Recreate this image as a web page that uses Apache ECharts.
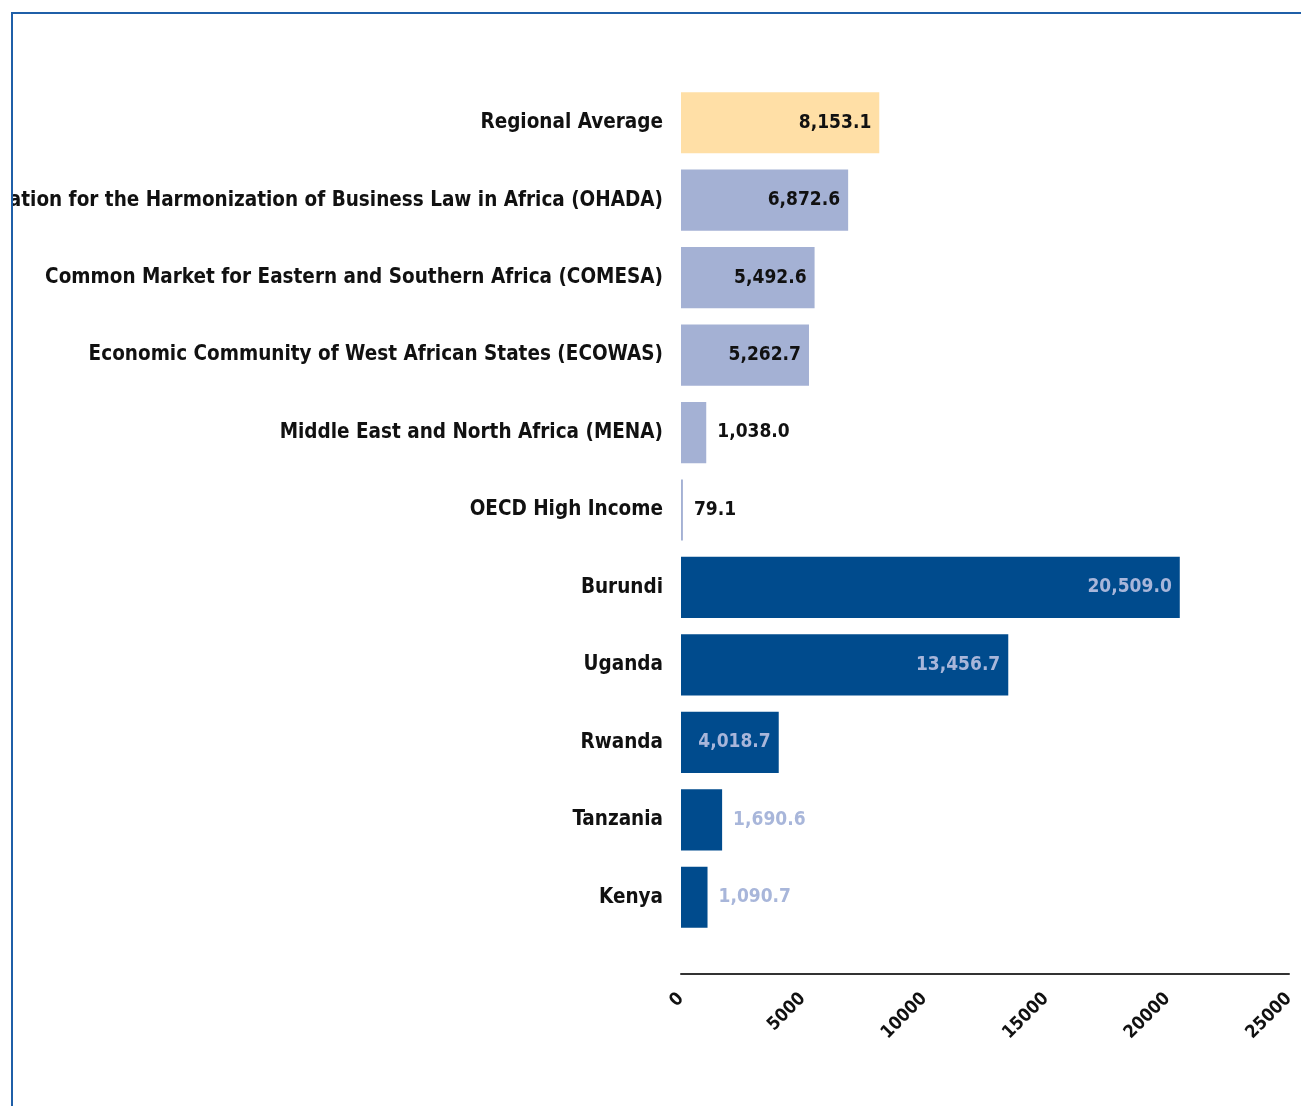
<!DOCTYPE html>
<html>
<head>
<meta charset="utf-8">
<title>Chart</title>
<script src="https://cdn.jsdelivr.net/npm/echarts@6/dist/echarts.min.js"></script>
<style>
  html, body { margin: 0; padding: 0; background: #fff; }
  #frame {
    position: absolute; left: 11px; top: 12px; width: 1300px; height: 1100px;
    border-left: 2px solid #1f5fa8; border-top: 2px solid #1f5fa8;
  }
  #chart { position: absolute; left: 13px; top: 14px; width: 1288px; height: 1092px; overflow: hidden; }
</style>
</head>
<body>
<div id="frame"></div>
<div id="chart"></div>
<script>
// data
var categories = [
    "Regional Average",
    "Organization for the Harmonization of Business Law in Africa (OHADA)",
    "Common Market for Eastern and Southern Africa (COMESA)",
    "Economic Community of West African States (ECOWAS)",
    "Middle East and North Africa (MENA)",
    "OECD High Income",
    "Burundi",
    "Uganda",
    "Rwanda",
    "Tanzania",
    "Kenya"
];
var values = [8153.1, 6872.6, 5492.6, 5262.7, 1038.0, 79.1, 20509.0, 13456.7, 4018.7, 1690.6, 1090.7];
var kinds = ["average", "bloc", "bloc", "bloc", "bloc", "bloc", "country", "country", "country", "country", "country"];
var xTicks = [0, 5000, 10000, 15000, 20000, 25000];

var FONT = '"DejaVu Sans Condensed", "Liberation Sans", sans-serif';
var barColor = { average: "#ffdfa6", bloc: "#a4b1d4", country: "#004b8d" };
var labelColor = { average: "#111", bloc: "#111", country: "#a8b6da" };

function fmt(v) {
    return v.toLocaleString("en-US", { minimumFractionDigits: 1, maximumFractionDigits: 1 });
}

var seriesData = values.map(function (v, i) {
    var k = kinds[i];
    // small bars get their label outside
    var inside = v > 3000;
    return {
        value: v,
        itemStyle: { color: barColor[k] },
        label: {
            position: inside ? "insideRight" : "right",
            distance: inside ? 8 : 11,
            color: labelColor[k]
        }
    };
});

var chart = echarts.init(document.getElementById("chart"));
chart.setOption({
    animation: false,
    grid: { left: 668, top: 70, width: 608, height: 852, outerBoundsMode: "none", containLabel: false },
    xAxis: {
        type: "value",
        min: xTicks[0],
        max: xTicks[xTicks.length - 1],
        interval: 5000,
        offset: 38,
        axisLine: { show: true, lineStyle: { color: "#333", width: 2 } },
        axisTick: { show: false },
        splitLine: { show: false },
        axisLabel: {
            rotate: 45,
            margin: 22,
            fontFamily: FONT,
            fontWeight: "bold",
            fontSize: 18,
            color: "#111",
            formatter: function (v) { return String(v); }
        }
    },
    yAxis: {
        type: "category",
        inverse: true,
        data: categories,
        axisLine: { show: false },
        axisTick: { show: false },
        axisLabel: {
            margin: 18,
            fontFamily: FONT,
            fontWeight: "bold",
            fontSize: 20.5,
            color: "#111"
        }
    },
    series: [{
        type: "bar",
        data: seriesData,
        barCategoryGap: "21%",
        label: {
            show: true,
            fontFamily: FONT,
            fontWeight: "bold",
            fontSize: 19,
            formatter: function (p) { return fmt(p.value); }
        }
    }]
});
</script>
</body>
</html>
